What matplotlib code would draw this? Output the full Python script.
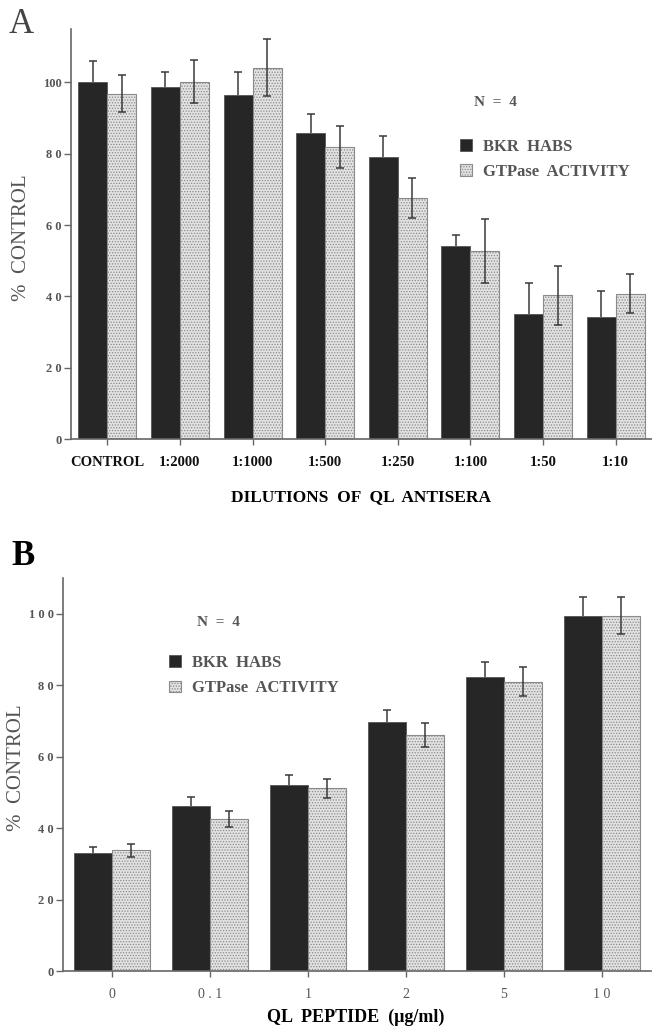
import matplotlib
matplotlib.use('Agg')
import matplotlib.pyplot as plt
import numpy as np

plt.rcParams['font.family'] = ['Liberation Serif', 'DejaVu Serif']
plt.rcParams['hatch.linewidth'] = 0.6

# panel A: dilutions of QL antisera
dilutions = ['CONTROL', '1:2000', '1:1000', '1:500', '1:250', '1:100', '1:50', '1:10']
bkr_a = [100, 98.8, 96.6, 85.9, 79.1, 54.2, 35.0, 34.2]
bkr_a_err = [6, 4.2, 6.2, 5.3, 6, 3, 8.7, 7.4]
gtp_a = [96.8, 100.2, 104.1, 81.8, 67.6, 52.8, 40.3, 40.8]
gtp_a_err = [5.2, 6, 8, 5.9, 5.5, 9, 8.2, 5.4]

# panel B: QL peptide
peptide = ['0', '0 . 1', '1', '2', '5', '1 0']
bkr_b = [33.0, 46.2, 52.0, 69.7, 82.4, 99.5]
bkr_b_err = [1.6, 2.4, 2.9, 3.4, 4.2, 5.2]
gtp_b = [33.8, 42.5, 51.1, 66.1, 81.0, 99.5]
gtp_b_err = [1.8, 2.2, 2.6, 3.3, 4.1, 5.1]

W, H = 652, 1030
fig = plt.figure(figsize=(W / 100, H / 100), dpi=100)


def px(x, y):
    return x / W, 1 - y / H


def draw_panel(ax, labels, bkr, bkr_err, gtp, gtp_err, width, ymax, yticklabels, xfont):
    x = np.arange(len(labels))
    err_kw = dict(ecolor='#3a3a3a', elinewidth=1.1, capsize=2.6, capthick=1.1)
    # lower half of the error on the dark bars is hidden in the original
    dark = ax.bar(x - width / 2, bkr, width, yerr=[np.zeros(len(bkr)), bkr_err],
                  color='#262626', edgecolor='#555555', linewidth=0.6,
                  error_kw=err_kw, label='BKR  HABS')
    dark.errorbar.lines[1][0].set_visible(False)
    ax.bar(x + width / 2, gtp, width, yerr=gtp_err, color='#e2e2e2',
           edgecolor='#8a8a8a', hatch='......', linewidth=0.8, error_kw=err_kw,
           label='GTPase  ACTIVITY')
    ax.set_xlim(-0.5, len(labels) - 0.5)
    ax.set_ylim(0, ymax)
    ax.set_xticks(x)
    ax.set_xticklabels(labels, **xfont)
    ax.set_yticks([0, 20, 40, 60, 80, 100])
    ax.set_yticklabels(yticklabels, fontsize=9, fontweight='bold', color='#555555')
    for s in ['top', 'right']:
        ax.spines[s].set_visible(False)
    for s in ['left', 'bottom']:
        ax.spines[s].set_color('#666666')
        ax.spines[s].set_linewidth(1.2)
    ax.tick_params(axis='y', length=5, width=1, color='#666666', pad=1.5)
    ax.tick_params(axis='x', length=4, width=1, color='#666666', pad=8)


axA = fig.add_axes([71 / W, 1 - 439 / H, 581 / W, 410 / H])
draw_panel(axA, dilutions, bkr_a, bkr_a_err, gtp_a, gtp_a_err, 0.4, 115,
           ['0', '2 0', '4 0', '6 0', '8 0', '100'],
           dict(fontsize=10.5, fontweight='bold', color='#111111'))

axB = fig.add_axes([63 / W, 1 - 971 / H, 588 / W, 393 / H])
draw_panel(axB, peptide, bkr_b, bkr_b_err, gtp_b, gtp_b_err, 0.39, 110,
           ['0', '2 0', '4 0', '6 0', '8 0', '1 0 0'],
           dict(fontsize=10, color='#555555'))

# panel letters
fig.text(*px(9, 33), 'A', fontsize=25, color='#444444', va='baseline')
fig.text(*px(11, 565), 'B', fontsize=25, fontweight='bold', va='baseline')

# y labels
fig.text(*px(22, 238), '%  CONTROL', rotation=90, fontsize=15, color='#555555',
         ha='center', va='center')
fig.text(*px(17, 768), '%  CONTROL', rotation=90, fontsize=15, color='#555555',
         ha='center', va='center')

# x labels
fig.text(*px(361, 497), 'DILUTIONS  OF  QL  ANTISERA', fontsize=12.5,
         fontweight='bold', ha='center', va='center')
fig.text(*px(356, 1017), 'QL  PEPTIDE  (μg/ml)', fontsize=13,
         fontweight='bold', ha='center', va='center')

# N labels
fig.text(*px(495, 102), 'N  =  4', fontsize=11, fontweight='bold', color='#555555',
         ha='center', va='center')
fig.text(*px(218, 622), 'N  =  4', fontsize=11, fontweight='bold', color='#555555',
         ha='center', va='center')

leg_kw = dict(frameon=False, loc='upper left', handlelength=0.7,
              handleheight=0.7, handletextpad=0.7, labelspacing=0.55,
              borderpad=0, borderaxespad=0, bbox_transform=fig.transFigure,
              prop=dict(family='Liberation Serif', weight='bold', size=12))
legA = axA.legend(bbox_to_anchor=px(460, 139), **leg_kw)
legB = axB.legend(bbox_to_anchor=px(169, 655), **leg_kw)
for leg in (legA, legB):
    for t in leg.get_texts():
        t.set_color('#555555')

fig.savefig('out.png', dpi=100)
